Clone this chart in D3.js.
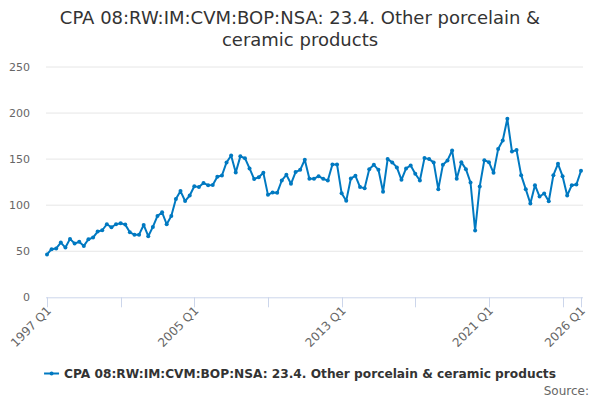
<!DOCTYPE html>
<html>
<head>
<meta charset="utf-8">
<script src="https://cdn.jsdelivr.net/npm/d3@7"></script>
<style>
  body { margin: 0; background: #fff; }
  text { font-family: "DejaVu Sans", sans-serif; }
</style>
</head>
<body>
<div id="chart"></div>
<script>
const titleLines = ['CPA 08:RW:IM:CVM:BOP:NSA: 23.4. Other porcelain &', 'ceramic products'];
const seriesName = 'CPA 08:RW:IM:CVM:BOP:NSA: 23.4. Other porcelain & ceramic products';

// quarterly categories 1997 Q1 .. 2026 Q1
const quarters = [];
for (let y = 1997; y <= 2026; y++) {
    for (let q = 1; q <= 4; q++) {
        if (y === 2026 && q > 1) break;
        quarters.push(`${y} Q${q}`);
    }
}

const values = [
    46.5, 52.2, 53.0, 59.4, 54.0, 63.4, 58.4, 60.2, 55.8, 63.0,
    64.8, 71.3, 72.8, 79.3, 76.0, 79.3, 80.3, 78.9, 70.6, 68.0,
    68.0, 78.5, 66.3, 76.4, 88.3, 92.2, 79.3, 88.3, 106.6, 115.3,
    104.5, 110.5, 120.5, 119.6, 124.0, 121.7, 122.0, 130.8, 132.2, 146.4,
    154.0, 135.5, 153.0, 151.0, 139.9, 128.3, 130.4, 135.1, 111.2, 113.8,
    113.4, 126.8, 133.0, 123.2, 135.9, 138.4, 149.3, 128.6, 128.6, 131.5,
    128.6, 126.8, 144.2, 144.2, 113.0, 104.7, 129.0, 131.9, 119.6, 118.5,
    139.1, 143.8, 138.4, 114.5, 150.0, 146.4, 141.0, 127.5, 139.9, 143.1,
    134.1, 126.8, 151.1, 150.0, 146.4, 117.4, 143.8, 148.6, 159.4, 128.6,
    146.7, 139.1, 124.6, 72.5, 120.3, 148.9, 146.7, 135.1, 160.9, 170.3,
    193.8, 158.3, 159.8, 132.6, 117.4, 101.8, 121.7, 109.4, 112.7, 104.3,
    132.6, 144.9, 131.5, 110.5, 121.7, 122.5, 137.3
];

const yTicks = [0, 50, 100, 150, 200, 250];
const tickCategories = ['1997 Q1', '2001 Q1', '2005 Q1', '2009 Q1', '2013 Q1', '2017 Q1', '2021 Q1', '2025 Q1', '2026 Q1'];
const labelCategories = ['1997 Q1', '2005 Q1', '2013 Q1', '2021 Q1', '2026 Q1'];

const width = 600, height = 400;
const plot = { left: 46, right: 583, top: 67, bottom: 297.3 };
const lineColor = '#0079c1';

const svg = d3.select('#chart').append('svg')
    .attr('width', width)
    .attr('height', height);

const x = d3.scalePoint()
    .domain(quarters)
    .range([47, 581]);

const y = d3.scaleLinear()
    .domain([0, 250])
    .range([plot.bottom, plot.top]);

// title
svg.append('text')
    .attr('x', width / 2)
    .attr('y', 24)
    .attr('text-anchor', 'middle')
    .attr('fill', '#333')
    .style('font-size', '18px')
    .selectAll('tspan')
    .data(titleLines)
    .join('tspan')
    .attr('x', width / 2)
    .attr('dy', (d, i) => i === 0 ? 0 : 22)
    .text(d => d);

// grid + y labels
const grid = svg.append('g');
grid.selectAll('line')
    .data(yTicks.filter(d => d > 0))
    .join('line')
    .attr('x1', plot.left)
    .attr('x2', plot.right)
    .attr('y1', d => y(d))
    .attr('y2', d => y(d))
    .attr('stroke', '#e6e6e6');

grid.selectAll('text')
    .data(yTicks)
    .join('text')
    .attr('x', 30)
    .attr('y', d => y(d) + 4)
    .attr('text-anchor', 'end')
    .attr('fill', '#666')
    .style('font-size', '11px')
    .text(d => d);

// x axis
const xAxis = svg.append('g');
xAxis.append('line')
    .attr('x1', plot.left)
    .attr('x2', plot.right)
    .attr('y1', plot.bottom + 0.5)
    .attr('y2', plot.bottom + 0.5)
    .attr('stroke', '#ccd6eb');

xAxis.selectAll('.tick')
    .data(tickCategories)
    .join('line')
    .attr('class', 'tick')
    .attr('x1', d => Math.round(x(d)) + 0.5)
    .attr('x2', d => Math.round(x(d)) + 0.5)
    .attr('y1', plot.bottom)
    .attr('y2', plot.bottom + 10)
    .attr('stroke', '#ccd6eb');

xAxis.selectAll('.xlabel')
    .data(labelCategories)
    .join('text')
    .attr('class', 'xlabel')
    .attr('text-anchor', 'end')
    .attr('fill', '#666')
    .style('font-size', '12px')
    .attr('transform', d => `translate(${x(d) + 5}, ${plot.bottom + 14}) rotate(-45)`)
    .text(d => d);

// series
const line = d3.line()
    .x((d, i) => x(quarters[i]))
    .y(d => y(d));

svg.append('path')
    .datum(values)
    .attr('d', line)
    .attr('fill', 'none')
    .attr('stroke', lineColor)
    .attr('stroke-width', 2)
    .attr('stroke-linejoin', 'round');

svg.append('g')
    .selectAll('circle')
    .data(values)
    .join('circle')
    .attr('cx', (d, i) => x(quarters[i]))
    .attr('cy', d => y(d))
    .attr('r', 2)
    .attr('fill', lineColor);

// legend
const legend = svg.append('g');
const legendText = legend.append('text')
    .attr('y', 377.5)
    .attr('fill', '#333')
    .style('font-size', '12.2px')
    .style('font-weight', 'bold')
    .text(seriesName);
const tw = legendText.node().getComputedTextLength();
const lx = (width - (tw + 20)) / 2;
legendText.attr('x', lx + 20);
legend.append('line')
    .attr('x1', lx)
    .attr('x2', lx + 15)
    .attr('y1', 373.5)
    .attr('y2', 373.5)
    .attr('stroke', lineColor)
    .attr('stroke-width', 2);
legend.append('circle')
    .attr('cx', lx + 7.5)
    .attr('cy', 373.5)
    .attr('r', 2)
    .attr('fill', lineColor);

// credits
svg.append('text')
    .attr('x', 589)
    .attr('y', 395)
    .attr('text-anchor', 'end')
    .attr('fill', '#666')
    .style('font-size', '12px')
    .text('Source:');
</script>
</body>
</html>
